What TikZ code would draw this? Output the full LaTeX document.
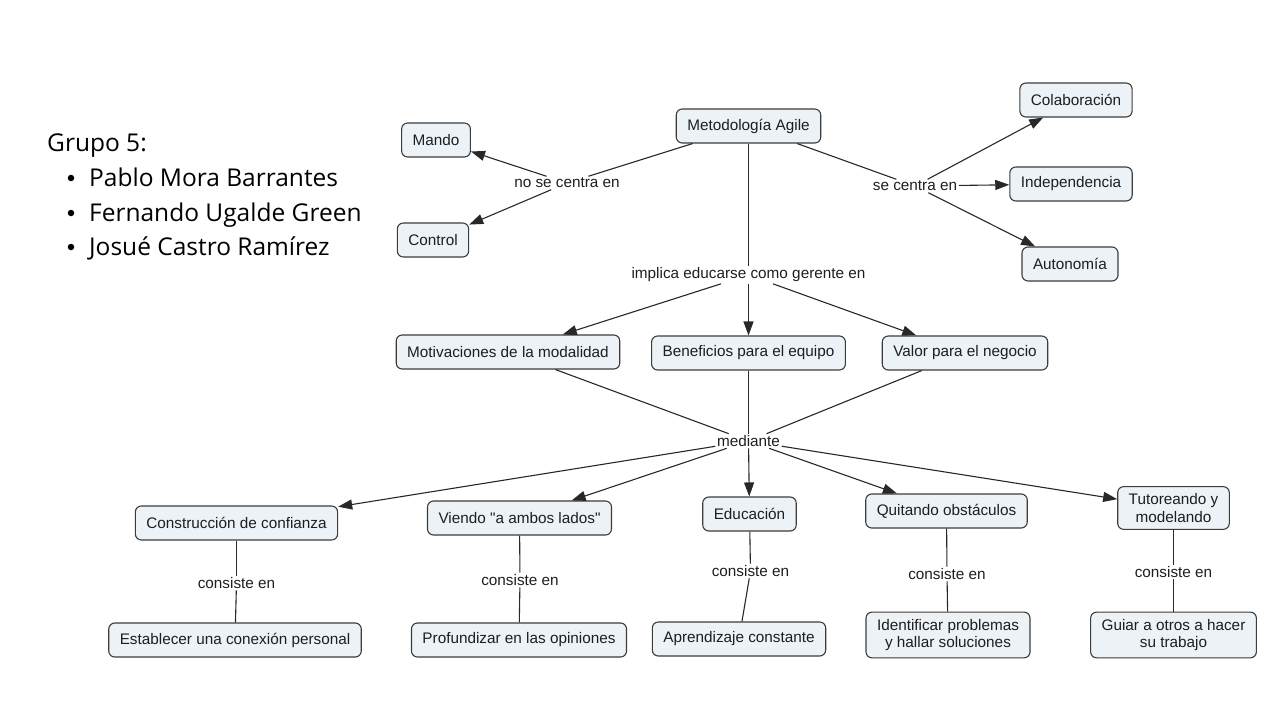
\documentclass[tikz,border=0pt]{standalone}
\usepackage{fontspec}
\setmainfont{Liberation Sans}
\newfontfamily\grpfont{Open Sans}
\usetikzlibrary{arrows.meta}
\definecolor{boxfill}{RGB}{236,242,245}
\definecolor{boxdraw}{RGB}{60,60,60}
\definecolor{linecol}{RGB}{40,40,40}
\definecolor{txtcol}{RGB}{30,30,30}
\tikzset{
  concept/.style={draw=boxdraw, fill=boxfill, rounded corners=6pt, line width=1.1pt,
    inner xsep=11pt, inner ysep=7pt, minimum height=34pt, align=center,
    font=\fontsize{15.3}{17.5}\selectfont, text=txtcol},
  linklabel/.style={inner sep=1.5pt, font=\fontsize{15.3}{17.5}\selectfont, text=txtcol},
  conn/.style={draw=linecol, line width=1.1pt},
  arr/.style={conn, -{Triangle[length=14pt,width=10pt]}},
  grp/.style={font=\grpfont\fontsize{24.5}{28}\selectfont, text=black, inner sep=0pt, anchor=base west},
  bullet/.style={circle, fill=black, inner sep=0pt, minimum size=6.5pt},
}
\begin{document}
\begin{tikzpicture}[x=1pt,y=-1pt]
\useasboundingbox (0,0) rectangle (1280,720);
% left text
\node[grp] (g0) at (47,151.5) {Grupo 5:};
\node[bullet] (b1) at (71,178) {};
\node[grp] (t1) at (89,186) {Pablo Mora Barrantes};
\node[bullet] (b2) at (71,213) {};
\node[grp] (t2) at (89,221) {Fernando Ugalde Green};
\node[bullet] (b3) at (71,247) {};
\node[grp] (t3) at (89,255) {Josué Castro Ramírez};
% concepts
\node[concept] (meta) at (748.5,126) {Metodología Agile};
\node[concept] (mando) at (436,140) {Mando};
\node[concept] (control) at (433,240) {Control};
\node[concept] (colab) at (1076,100) {Colaboración};
\node[concept] (indep) at (1071,184) {Independencia};
\node[concept] (auton) at (1070,264) {Autonomía};
\node[concept] (motiv) at (508,352) {Motivaciones de la modalidad};
\node[concept] (benef) at (748.5,353) {Beneficios para el equipo};
\node[concept] (valor) at (965,353) {Valor para el negocio};
\node[concept] (constr) at (236.5,523) {Construcción de confianza};
\node[concept] (viendo) at (519.5,518) {Viendo \textquotedbl a ambos lados\textquotedbl};
\node[concept] (educ) at (749.5,514) {Educación};
\node[concept] (quit) at (946.5,511) {Quitando obstáculos};
\node[concept] (tutor) at (1173.5,508) {Tutoreando y\\modelando};
\node[concept] (estab) at (235,640) {Establecer una conexión personal};
\node[concept] (profu) at (519,640) {Profundizar en las opiniones};
\node[concept] (apren) at (739,639) {Aprendizaje constante};
\node[concept] (ident) at (948,635) {Identificar problemas\\y hallar soluciones};
\node[concept] (guiar) at (1173.5,635) {Guiar a otros a hacer\\su trabajo};
% link labels
\node[linklabel] (nosc) at (567,183) {no se centra en};
\node[linklabel] (sce) at (915,186) {se centra en};
\node[linklabel] (impl) at (748.5,275) {implica educarse como gerente en};
\node[linklabel] (med) at (748.5,441) {mediante};
\node[linklabel] (c1) at (236.5,583) {consiste en};
\node[linklabel] (c2) at (520,580) {consiste en};
\node[linklabel] (c3) at (750.5,571) {consiste en};
\node[linklabel] (c4) at (947,574) {consiste en};
\node[linklabel] (c5) at (1173.5,572) {consiste en};
% connectors
\draw[conn] (meta) -- (nosc);
\draw[arr] (nosc) -- (mando);
\draw[arr] (nosc) -- (control);
\draw[conn] (meta) -- (sce);
\draw[arr] (sce) -- (colab);
\draw[arr] (sce) -- (indep);
\draw[arr] (sce) -- (auton);
\draw[conn] (meta) -- (impl);
\draw[arr] (impl) -- (motiv);
\draw[arr] (impl) -- (benef);
\draw[arr] (impl) -- (valor);
\draw[conn] (motiv) -- (med);
\draw[conn] (benef) -- (med);
\draw[conn] (valor) -- (med);
\draw[arr] (med) -- (constr);
\draw[arr] (med) -- (viendo);
\draw[arr] (med) -- (educ);
\draw[arr] (med) -- (quit);
\draw[arr] (med) -- (tutor);
\draw[conn] (constr) -- (c1);
\draw[conn] (c1) -- (estab);
\draw[conn] (viendo) -- (c2);
\draw[conn] (c2) -- (profu);
\draw[conn] (educ) -- (c3);
\draw[conn] (c3) -- (apren);
\draw[conn] (quit) -- (c4);
\draw[conn] (c4) -- (ident);
\draw[conn] (tutor) -- (c5);
\draw[conn] (c5) -- (guiar);
\end{tikzpicture}
\end{document}
